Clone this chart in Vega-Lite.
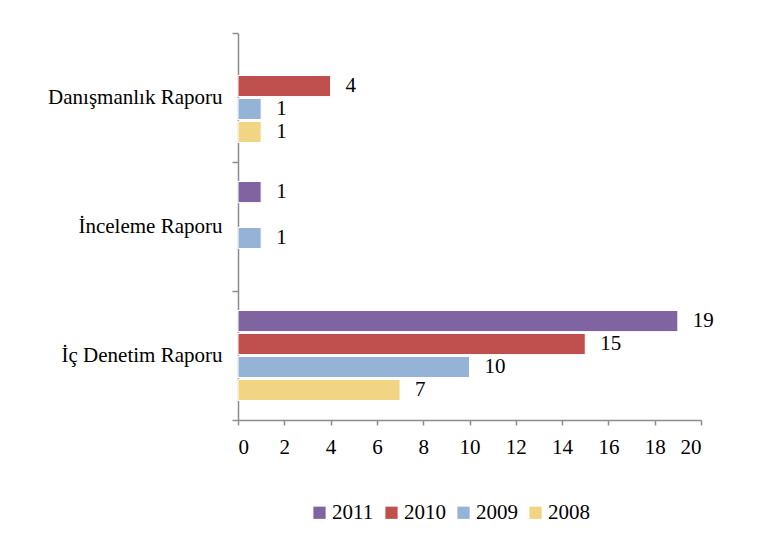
{
  "$schema": "https://vega.github.io/schema/vega-lite/v6.json",
  "width": 463,
  "height": 387,
  "autosize": {"type": "none"},
  "padding": {"left": 238, "top": 33, "right": 68, "bottom": 132},
  "background": "white",
  "config": {
    "view": {"stroke": null},
    "font": "Liberation Serif",
    "text": {"font": "Liberation Serif"},
    "legend": {"labelFont": "Liberation Serif"},
    "axis": {
      "domainColor": "#8C8C8C",
      "domainWidth": 1.5,
      "tickColor": "#8C8C8C",
      "tickWidth": 1.5,
      "labelColor": "#000000",
      "labelFont": "Liberation Serif",
      "labelFontSize": 21,
      "grid": false,
      "title": null
    }
  },
  "data": {
    "values": [
      {"rapor": "Danışmanlık Raporu", "yil": "2010", "deger": 4},
      {"rapor": "Danışmanlık Raporu", "yil": "2009", "deger": 1},
      {"rapor": "Danışmanlık Raporu", "yil": "2008", "deger": 1},
      {"rapor": "İnceleme Raporu", "yil": "2011", "deger": 1},
      {"rapor": "İnceleme Raporu", "yil": "2009", "deger": 1},
      {"rapor": "İç Denetim Raporu", "yil": "2011", "deger": 19},
      {"rapor": "İç Denetim Raporu", "yil": "2010", "deger": 15},
      {"rapor": "İç Denetim Raporu", "yil": "2009", "deger": 10},
      {"rapor": "İç Denetim Raporu", "yil": "2008", "deger": 7}
    ]
  },
  "encoding": {
    "y": {
      "field": "rapor",
      "type": "nominal",
      "sort": ["Danışmanlık Raporu", "İnceleme Raporu", "İç Denetim Raporu"],
      "scale": {"paddingInner": 0, "paddingOuter": 0},
      "axis": {
        "tickBand": "extent",
        "tickSize": 6,
        "labelPadding": 10,
        "labelLimit": 300
      }
    },
    "yOffset": {
      "field": "yil",
      "type": "nominal",
      "scale": {
        "domain": ["2011", "2010", "2009", "2008"],
        "paddingInner": 0.08,
        "paddingOuter": 0.85
      }
    }
  },
  "layer": [
    {
      "mark": {"type": "bar", "stroke": "white", "strokeWidth": 1},
      "encoding": {
        "x": {
          "field": "deger",
          "type": "quantitative",
          "scale": {"domain": [0, 20], "nice": false},
          "axis": {
            "values": [0, 2, 4, 6, 8, 10, 12, 14, 16, 18, 20],
            "tickSize": 5,
            "labelPadding": 11
          }
        },
        "color": {
          "field": "yil",
          "type": "nominal",
          "scale": {
            "domain": ["2011", "2010", "2009", "2008"],
            "range": ["#8064A2", "#C0504D", "#95B3D7", "#F1D584"]
          },
          "legend": {
            "orient": "none",
            "legendX": 71,
            "legendY": 469,
            "direction": "horizontal",
            "title": null,
            "symbolType": "square",
            "symbolSize": 150,
            "symbolStrokeWidth": 0,
            "labelFontSize": 21,
            "labelFont": "Liberation Serif",
            "labelColor": "#000000",
            "labelOffset": 2,
            "columnPadding": 7,
            "padding": 0
          }
        }
      }
    },
    {
      "mark": {
        "type": "text",
        "align": "left",
        "baseline": "middle",
        "dx": 15,
        "fontSize": 21,
        "font": "Liberation Serif",
        "color": "#000000"
      },
      "encoding": {
        "x": {"field": "deger", "type": "quantitative"},
        "text": {"field": "deger", "type": "quantitative"}
      }
    }
  ]
}
